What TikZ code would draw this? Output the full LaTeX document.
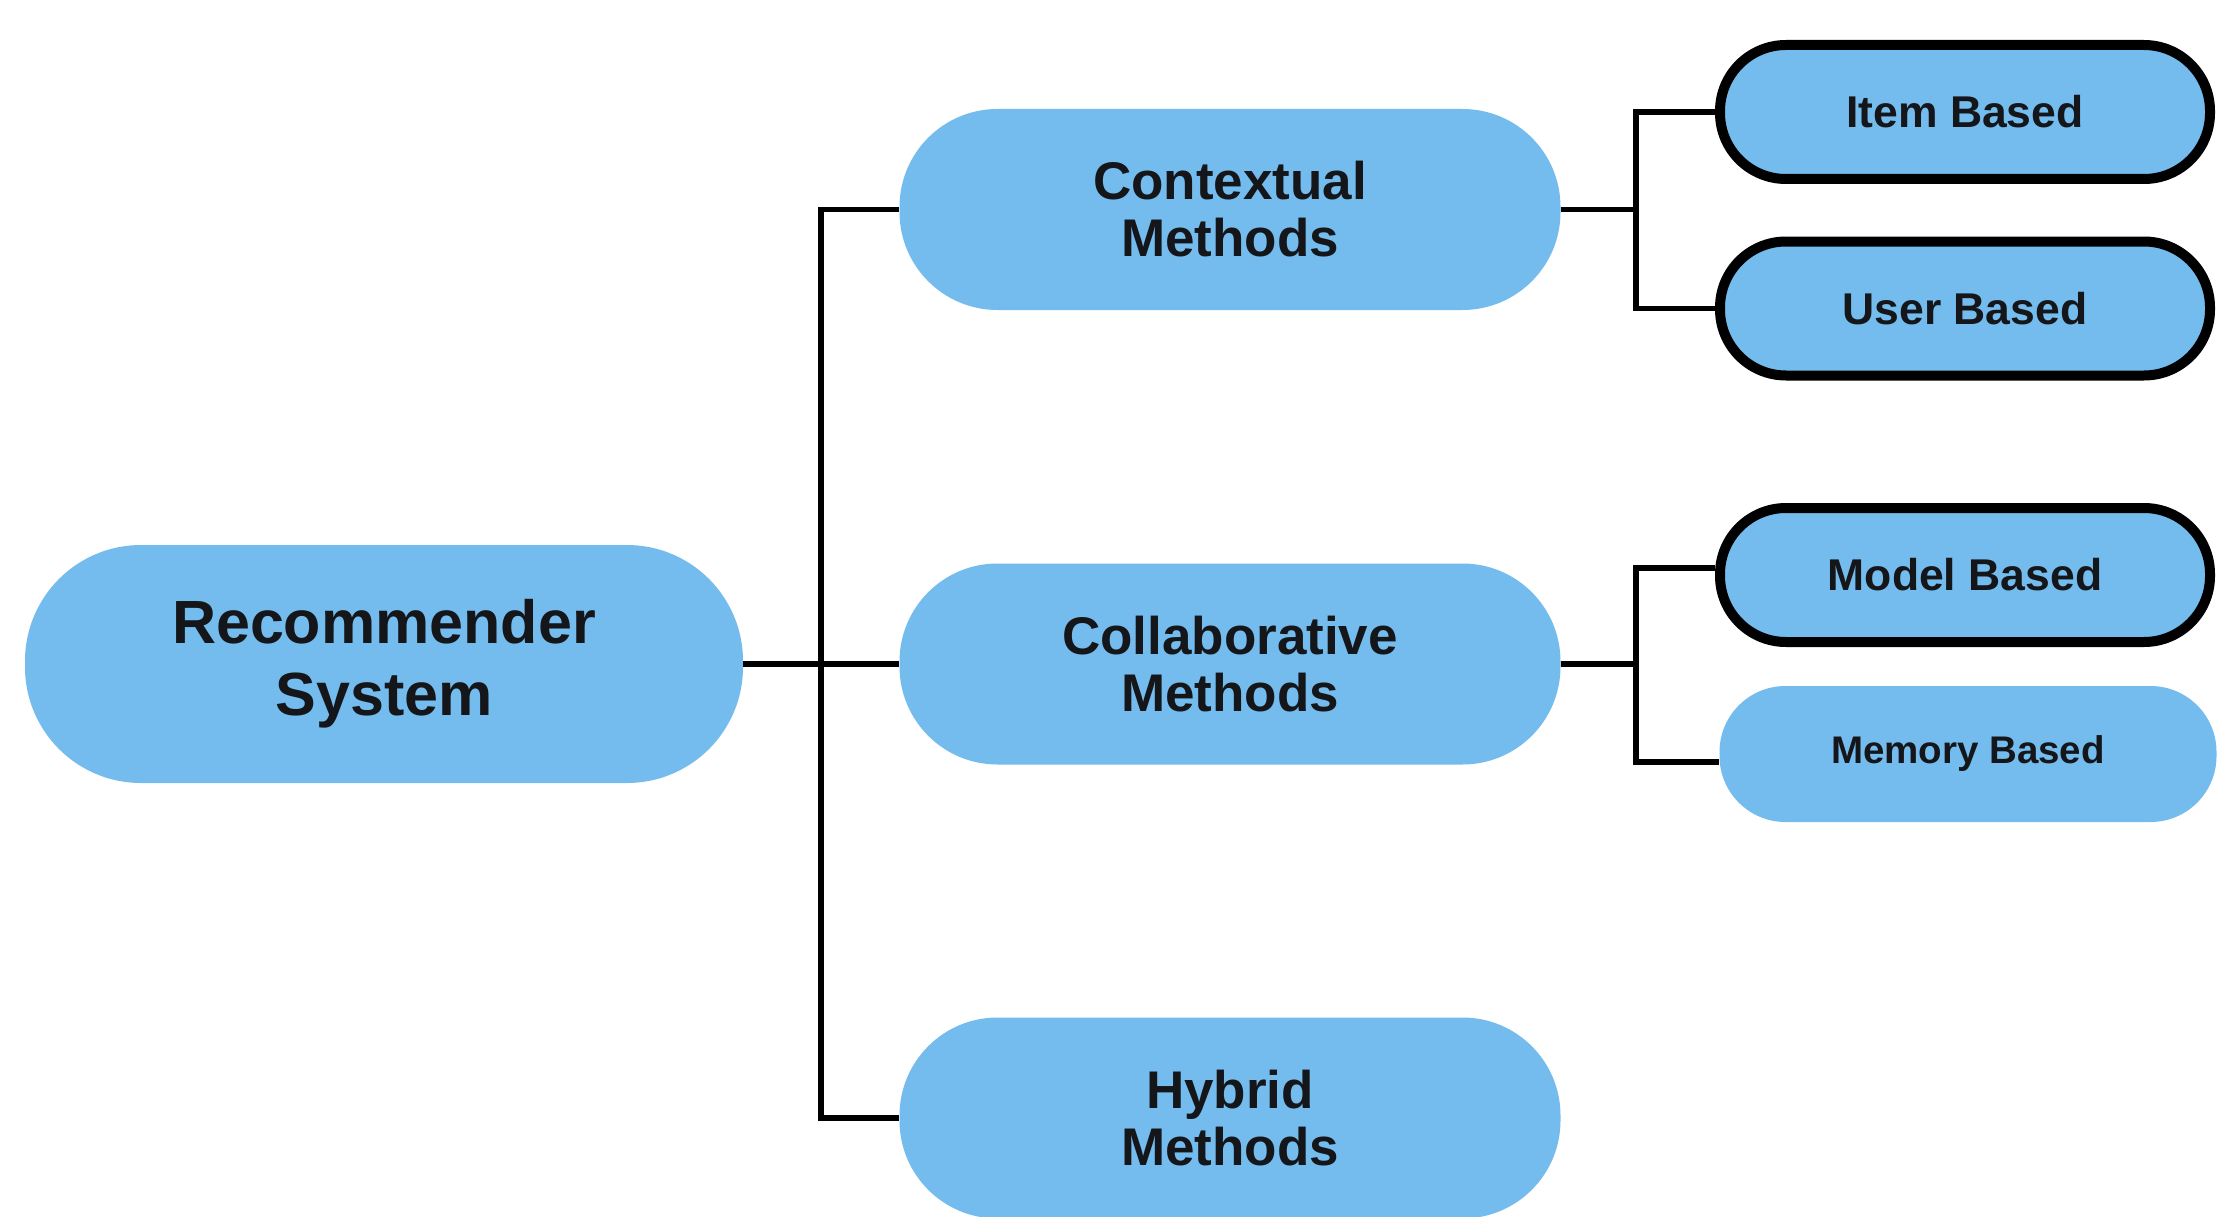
\documentclass[tikz,border=0pt]{standalone}
\usepackage{fontspec}
\setmainfont{Liberation Sans}
\definecolor{pillblue}{RGB}{116,188,238}
\definecolor{inkdark}{RGB}{20,22,26}
\tikzset{
  pill/.style={rectangle, fill=pillblue, text=inkdark, align=center,
    inner sep=0pt, font=\bfseries},
  bigpill/.style={pill, minimum width=718pt, minimum height=238pt,
    rounded corners=116pt, font=\bfseries\fontsize{61}{72}\selectfont},
  midpill/.style={pill, minimum width=661pt, minimum height=201pt,
    rounded corners=98pt, font=\bfseries\fontsize{53}{57}\selectfont},
  leafpill/.style={pill, minimum width=490pt, minimum height=134pt,
    rounded corners=66pt, draw=black, line width=10pt,
    font=\bfseries\fontsize{44.5}{50}\selectfont},
  plainleaf/.style={pill, minimum width=497pt, minimum height=136pt,
    rounded corners=66pt, font=\bfseries\fontsize{38.5}{44}\selectfont},
  link/.style={draw=black, line width=5.5pt}
}
\begin{document}
\begin{tikzpicture}[x=1pt, y=-1pt]
  \useasboundingbox[fill=white] (0,0) rectangle (2219,1217);

  % branch points of the tree
  \coordinate (trunk) at (821,664);
  \coordinate (subtrunk) at (1636,664);

  % root
  \node[bigpill] (rec) at (384,664) {Recommender\\System};

  % second level
  \node[midpill] (ctx) at (1230,209.5) {Contextual\\Methods};
  \node[midpill] (col) at (1230,664) {Collaborative\\Methods};
  \node[midpill] (hyb) at (1230,1118) {Hybrid\\Methods};

  % leaves
  \node[leafpill] (item)   at (1965,112)   {Item Based};
  \node[leafpill] (user)   at (1965,308.5) {User Based};
  \node[leafpill] (model)  at (1965,575)   {Model Based};
  \node[plainleaf] (memory) at (1968,754)  {Memory Based};

  % root to second level
  \draw[link] (rec.east) -- (col.west);
  \draw[link] (ctx.west) -- (ctx.west -| trunk) -- (hyb.west -| trunk) -- (hyb.west);

  % contextual to its leaves
  \draw[link] (ctx.east) -- (ctx.east -| subtrunk);
  \draw[link] (item.west) -- (item.west -| subtrunk) -- (user.west -| subtrunk) -- (user.west);

  % collaborative to its leaves
  \draw[link] (col.east) -- (col.east -| subtrunk);
  \draw[link] ([yshift=7pt]model.west) -- ([yshift=7pt]model.west -| subtrunk)
    -- ([yshift=-8pt]memory.west -| subtrunk) -- ([yshift=-8pt]memory.west);
\end{tikzpicture}
\end{document}
